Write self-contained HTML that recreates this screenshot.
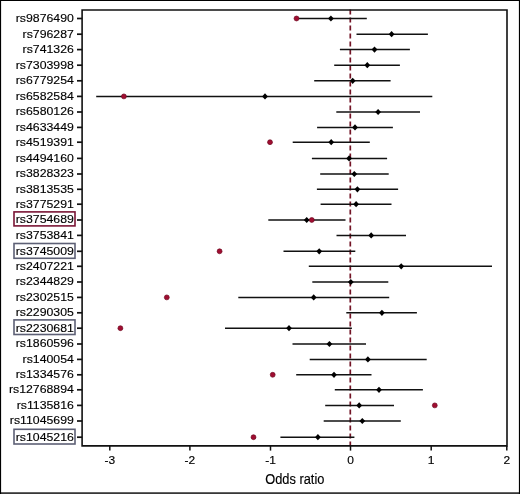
<!DOCTYPE html>
<html><head><meta charset="utf-8"><style>
html,body{margin:0;padding:0;background:#fff;}
svg{display:block;will-change:transform;}
text{font-family:"Liberation Sans",sans-serif;fill:#000;stroke:#000;stroke-width:0.15px;}
</style></head><body>
<svg width="520" height="494" viewBox="0 0 520 494">
<rect x="0" y="0" width="520" height="494" fill="#fff"/>
<path d="M0.55,0 V494 M0,0.55 H520 M519.45,0 V494 M0,493.2 H520" stroke="#000" stroke-width="1.1" fill="none"/>
<line x1="0" y1="492.7" x2="520" y2="492.7" stroke="#000" stroke-width="0.6"/>
<line x1="350.3" y1="9.5" x2="350.3" y2="446" stroke="#731426" stroke-width="1.7" stroke-dasharray="5 3"/>
<line x1="296.5" y1="18.5" x2="366.8" y2="18.5" stroke="#111" stroke-width="1.5"/>
<line x1="356.5" y1="34.2" x2="427.9" y2="34.2" stroke="#111" stroke-width="1.5"/>
<line x1="339.9" y1="49.6" x2="409.9" y2="49.6" stroke="#111" stroke-width="1.5"/>
<line x1="334.2" y1="65.2" x2="399.9" y2="65.2" stroke="#111" stroke-width="1.5"/>
<line x1="314.2" y1="80.8" x2="390.6" y2="80.8" stroke="#111" stroke-width="1.5"/>
<line x1="96.2" y1="96.4" x2="432.3" y2="96.4" stroke="#111" stroke-width="1.5"/>
<line x1="336.3" y1="112.0" x2="420.0" y2="112.0" stroke="#111" stroke-width="1.5"/>
<line x1="317.1" y1="127.4" x2="392.9" y2="127.4" stroke="#111" stroke-width="1.5"/>
<line x1="292.7" y1="142.2" x2="369.8" y2="142.2" stroke="#111" stroke-width="1.5"/>
<line x1="311.9" y1="158.4" x2="387.1" y2="158.4" stroke="#111" stroke-width="1.5"/>
<line x1="320.2" y1="174.0" x2="388.7" y2="174.0" stroke="#111" stroke-width="1.5"/>
<line x1="316.9" y1="189.3" x2="398.1" y2="189.3" stroke="#111" stroke-width="1.5"/>
<line x1="320.6" y1="204.2" x2="391.5" y2="204.2" stroke="#111" stroke-width="1.5"/>
<line x1="268.3" y1="220.0" x2="345.5" y2="220.0" stroke="#111" stroke-width="1.5"/>
<line x1="336.5" y1="235.4" x2="406.0" y2="235.4" stroke="#111" stroke-width="1.5"/>
<line x1="283.5" y1="251.3" x2="355.3" y2="251.3" stroke="#111" stroke-width="1.5"/>
<line x1="308.8" y1="266.3" x2="492.0" y2="266.3" stroke="#111" stroke-width="1.5"/>
<line x1="312.3" y1="282.0" x2="388.3" y2="282.0" stroke="#111" stroke-width="1.5"/>
<line x1="238.3" y1="297.4" x2="389.2" y2="297.4" stroke="#111" stroke-width="1.5"/>
<line x1="346.3" y1="312.8" x2="416.9" y2="312.8" stroke="#111" stroke-width="1.5"/>
<line x1="225.0" y1="328.2" x2="351.9" y2="328.2" stroke="#111" stroke-width="1.5"/>
<line x1="292.5" y1="344.0" x2="366.0" y2="344.0" stroke="#111" stroke-width="1.5"/>
<line x1="309.7" y1="359.4" x2="426.7" y2="359.4" stroke="#111" stroke-width="1.5"/>
<line x1="296.2" y1="374.8" x2="371.5" y2="374.8" stroke="#111" stroke-width="1.5"/>
<line x1="334.8" y1="389.8" x2="422.9" y2="389.8" stroke="#111" stroke-width="1.5"/>
<line x1="325.2" y1="405.4" x2="394.0" y2="405.4" stroke="#111" stroke-width="1.5"/>
<line x1="323.7" y1="421.0" x2="400.8" y2="421.0" stroke="#111" stroke-width="1.5"/>
<line x1="280.4" y1="437.2" x2="354.4" y2="437.2" stroke="#111" stroke-width="1.5"/>
<polygon points="328.0,18.5 330.9,15.4 333.79999999999995,18.5 330.9,21.6" fill="#000"/>
<polygon points="388.70000000000005,34.2 391.6,31.1 394.5,34.2 391.6,37.300000000000004" fill="#000"/>
<polygon points="371.6,49.6 374.5,46.5 377.4,49.6 374.5,52.7" fill="#000"/>
<polygon points="364.40000000000003,65.2 367.3,62.1 370.2,65.2 367.3,68.3" fill="#000"/>
<polygon points="349.8,80.8 352.7,77.7 355.59999999999997,80.8 352.7,83.89999999999999" fill="#000"/>
<polygon points="262.1,96.4 265.0,93.30000000000001 267.9,96.4 265.0,99.5" fill="#000"/>
<polygon points="375.20000000000005,112.0 378.1,108.9 381.0,112.0 378.1,115.1" fill="#000"/>
<polygon points="352.1,127.4 355.0,124.30000000000001 357.9,127.4 355.0,130.5" fill="#000"/>
<polygon points="328.3,142.2 331.2,139.1 334.09999999999997,142.2 331.2,145.29999999999998" fill="#000"/>
<polygon points="346.20000000000005,158.4 349.1,155.3 352.0,158.4 349.1,161.5" fill="#000"/>
<polygon points="351.40000000000003,174.0 354.3,170.9 357.2,174.0 354.3,177.1" fill="#000"/>
<polygon points="354.5,189.3 357.4,186.20000000000002 360.29999999999995,189.3 357.4,192.4" fill="#000"/>
<polygon points="353.20000000000005,204.2 356.1,201.1 359.0,204.2 356.1,207.29999999999998" fill="#000"/>
<polygon points="303.8,220.0 306.7,216.9 309.59999999999997,220.0 306.7,223.1" fill="#000"/>
<polygon points="368.3,235.4 371.2,232.3 374.09999999999997,235.4 371.2,238.5" fill="#000"/>
<polygon points="316.3,251.3 319.2,248.20000000000002 322.09999999999997,251.3 319.2,254.4" fill="#000"/>
<polygon points="398.3,266.3 401.2,263.2 404.09999999999997,266.3 401.2,269.40000000000003" fill="#000"/>
<polygon points="347.90000000000003,282.0 350.8,278.9 353.7,282.0 350.8,285.1" fill="#000"/>
<polygon points="310.8,297.4 313.7,294.29999999999995 316.59999999999997,297.4 313.7,300.5" fill="#000"/>
<polygon points="379.0,312.8 381.9,309.7 384.79999999999995,312.8 381.9,315.90000000000003" fill="#000"/>
<polygon points="286.1,328.2 289.0,325.09999999999997 291.9,328.2 289.0,331.3" fill="#000"/>
<polygon points="326.5,344.0 329.4,340.9 332.29999999999995,344.0 329.4,347.1" fill="#000"/>
<polygon points="365.0,359.4 367.9,356.29999999999995 370.79999999999995,359.4 367.9,362.5" fill="#000"/>
<polygon points="331.1,374.8 334.0,371.7 336.9,374.8 334.0,377.90000000000003" fill="#000"/>
<polygon points="376.1,389.8 379.0,386.7 381.9,389.8 379.0,392.90000000000003" fill="#000"/>
<polygon points="356.3,405.4 359.2,402.29999999999995 362.09999999999997,405.4 359.2,408.5" fill="#000"/>
<polygon points="359.40000000000003,421.0 362.3,417.9 365.2,421.0 362.3,424.1" fill="#000"/>
<polygon points="315.0,437.2 317.9,434.09999999999997 320.79999999999995,437.2 317.9,440.3" fill="#000"/>
<circle cx="296.5" cy="18.5" r="2.45" fill="#a00d31" stroke="#6e0820" stroke-width="0.7"/>
<circle cx="123.9" cy="96.4" r="2.45" fill="#a00d31" stroke="#6e0820" stroke-width="0.7"/>
<circle cx="270.0" cy="142.2" r="2.45" fill="#a00d31" stroke="#6e0820" stroke-width="0.7"/>
<circle cx="311.8" cy="220.0" r="2.45" fill="#a00d31" stroke="#6e0820" stroke-width="0.7"/>
<circle cx="219.6" cy="251.3" r="2.45" fill="#a00d31" stroke="#6e0820" stroke-width="0.7"/>
<circle cx="166.8" cy="297.4" r="2.45" fill="#a00d31" stroke="#6e0820" stroke-width="0.7"/>
<circle cx="120.4" cy="328.2" r="2.45" fill="#a00d31" stroke="#6e0820" stroke-width="0.7"/>
<circle cx="272.7" cy="374.8" r="2.45" fill="#a00d31" stroke="#6e0820" stroke-width="0.7"/>
<circle cx="434.8" cy="405.4" r="2.45" fill="#a00d31" stroke="#6e0820" stroke-width="0.7"/>
<circle cx="253.5" cy="437.2" r="2.45" fill="#a00d31" stroke="#6e0820" stroke-width="0.7"/>
<path d="M82.1,10.0 H507.0 V445.9 H82.1 Z" fill="none" stroke="#111" stroke-width="1.6"/>
<line x1="77" y1="18.5" x2="82.1" y2="18.5" stroke="#111" stroke-width="1.7"/>
<text x="0" y="0" font-size="12.3" text-anchor="end" transform="translate(73.8,21.80) scale(1,0.92)">rs9876490</text>
<line x1="77" y1="34.2" x2="82.1" y2="34.2" stroke="#111" stroke-width="1.7"/>
<text x="0" y="0" font-size="12.3" text-anchor="end" transform="translate(73.8,37.50) scale(1,0.92)">rs796287</text>
<line x1="77" y1="49.6" x2="82.1" y2="49.6" stroke="#111" stroke-width="1.7"/>
<text x="0" y="0" font-size="12.3" text-anchor="end" transform="translate(73.8,52.90) scale(1,0.92)">rs741326</text>
<line x1="77" y1="65.2" x2="82.1" y2="65.2" stroke="#111" stroke-width="1.7"/>
<text x="0" y="0" font-size="12.3" text-anchor="end" transform="translate(73.8,68.50) scale(1,0.92)">rs7303998</text>
<line x1="77" y1="80.8" x2="82.1" y2="80.8" stroke="#111" stroke-width="1.7"/>
<text x="0" y="0" font-size="12.3" text-anchor="end" transform="translate(73.8,84.10) scale(1,0.92)">rs6779254</text>
<line x1="77" y1="96.4" x2="82.1" y2="96.4" stroke="#111" stroke-width="1.7"/>
<text x="0" y="0" font-size="12.3" text-anchor="end" transform="translate(73.8,99.70) scale(1,0.92)">rs6582584</text>
<line x1="77" y1="112.0" x2="82.1" y2="112.0" stroke="#111" stroke-width="1.7"/>
<text x="0" y="0" font-size="12.3" text-anchor="end" transform="translate(73.8,115.30) scale(1,0.92)">rs6580126</text>
<line x1="77" y1="127.4" x2="82.1" y2="127.4" stroke="#111" stroke-width="1.7"/>
<text x="0" y="0" font-size="12.3" text-anchor="end" transform="translate(73.8,130.70) scale(1,0.92)">rs4633449</text>
<line x1="77" y1="142.2" x2="82.1" y2="142.2" stroke="#111" stroke-width="1.7"/>
<text x="0" y="0" font-size="12.3" text-anchor="end" transform="translate(73.8,145.50) scale(1,0.92)">rs4519391</text>
<line x1="77" y1="158.4" x2="82.1" y2="158.4" stroke="#111" stroke-width="1.7"/>
<text x="0" y="0" font-size="12.3" text-anchor="end" transform="translate(73.8,161.70) scale(1,0.92)">rs4494160</text>
<line x1="77" y1="174.0" x2="82.1" y2="174.0" stroke="#111" stroke-width="1.7"/>
<text x="0" y="0" font-size="12.3" text-anchor="end" transform="translate(73.8,177.30) scale(1,0.92)">rs3828323</text>
<line x1="77" y1="189.3" x2="82.1" y2="189.3" stroke="#111" stroke-width="1.7"/>
<text x="0" y="0" font-size="12.3" text-anchor="end" transform="translate(73.8,192.60) scale(1,0.92)">rs3813535</text>
<line x1="77" y1="204.2" x2="82.1" y2="204.2" stroke="#111" stroke-width="1.7"/>
<text x="0" y="0" font-size="12.3" text-anchor="end" transform="translate(73.8,207.50) scale(1,0.92)">rs3775291</text>
<line x1="77" y1="220.0" x2="82.1" y2="220.0" stroke="#111" stroke-width="1.7"/>
<text x="0" y="0" font-size="12.3" text-anchor="end" transform="translate(73.8,223.30) scale(1,0.92)">rs3754689</text>
<line x1="77" y1="235.4" x2="82.1" y2="235.4" stroke="#111" stroke-width="1.7"/>
<text x="0" y="0" font-size="12.3" text-anchor="end" transform="translate(73.8,238.70) scale(1,0.92)">rs3753841</text>
<line x1="77" y1="251.3" x2="82.1" y2="251.3" stroke="#111" stroke-width="1.7"/>
<text x="0" y="0" font-size="12.3" text-anchor="end" transform="translate(73.8,254.60) scale(1,0.92)">rs3745009</text>
<line x1="77" y1="266.3" x2="82.1" y2="266.3" stroke="#111" stroke-width="1.7"/>
<text x="0" y="0" font-size="12.3" text-anchor="end" transform="translate(73.8,269.60) scale(1,0.92)">rs2407221</text>
<line x1="77" y1="282.0" x2="82.1" y2="282.0" stroke="#111" stroke-width="1.7"/>
<text x="0" y="0" font-size="12.3" text-anchor="end" transform="translate(73.8,285.30) scale(1,0.92)">rs2344829</text>
<line x1="77" y1="297.4" x2="82.1" y2="297.4" stroke="#111" stroke-width="1.7"/>
<text x="0" y="0" font-size="12.3" text-anchor="end" transform="translate(73.8,300.70) scale(1,0.92)">rs2302515</text>
<line x1="77" y1="312.8" x2="82.1" y2="312.8" stroke="#111" stroke-width="1.7"/>
<text x="0" y="0" font-size="12.3" text-anchor="end" transform="translate(73.8,316.10) scale(1,0.92)">rs2290305</text>
<line x1="77" y1="328.2" x2="82.1" y2="328.2" stroke="#111" stroke-width="1.7"/>
<text x="0" y="0" font-size="12.3" text-anchor="end" transform="translate(73.8,331.50) scale(1,0.92)">rs2230681</text>
<line x1="77" y1="344.0" x2="82.1" y2="344.0" stroke="#111" stroke-width="1.7"/>
<text x="0" y="0" font-size="12.3" text-anchor="end" transform="translate(73.8,347.30) scale(1,0.92)">rs1860596</text>
<line x1="77" y1="359.4" x2="82.1" y2="359.4" stroke="#111" stroke-width="1.7"/>
<text x="0" y="0" font-size="12.3" text-anchor="end" transform="translate(73.8,362.70) scale(1,0.92)">rs140054</text>
<line x1="77" y1="374.8" x2="82.1" y2="374.8" stroke="#111" stroke-width="1.7"/>
<text x="0" y="0" font-size="12.3" text-anchor="end" transform="translate(73.8,378.10) scale(1,0.92)">rs1334576</text>
<line x1="77" y1="389.8" x2="82.1" y2="389.8" stroke="#111" stroke-width="1.7"/>
<text x="0" y="0" font-size="12.3" text-anchor="end" transform="translate(73.8,393.10) scale(1,0.92)">rs12768894</text>
<line x1="77" y1="405.4" x2="82.1" y2="405.4" stroke="#111" stroke-width="1.7"/>
<text x="0" y="0" font-size="12.3" text-anchor="end" transform="translate(73.8,408.70) scale(1,0.92)">rs1135816</text>
<line x1="77" y1="421.0" x2="82.1" y2="421.0" stroke="#111" stroke-width="1.7"/>
<text x="0" y="0" font-size="12.3" text-anchor="end" transform="translate(73.8,424.30) scale(1,0.92)">rs11045699</text>
<line x1="77" y1="437.2" x2="82.1" y2="437.2" stroke="#111" stroke-width="1.7"/>
<text x="0" y="0" font-size="12.3" text-anchor="end" transform="translate(73.8,440.50) scale(1,0.92)">rs1045216</text>
<rect x="14" y="211.9" width="61" height="14.0" fill="none" stroke="#7a1535" stroke-width="1.6"/>
<rect x="14" y="243.5" width="61" height="14.8" fill="none" stroke="#5d6075" stroke-width="1.6"/>
<rect x="14" y="319.9" width="61" height="14.6" fill="none" stroke="#5d6075" stroke-width="1.6"/>
<rect x="14" y="429.3" width="61" height="14.7" fill="none" stroke="#5d6075" stroke-width="1.6"/>
<line x1="109.8" y1="445.9" x2="109.8" y2="450.6" stroke="#111" stroke-width="1.5"/>
<text x="0" y="0" font-size="12" text-anchor="middle" transform="translate(109.8,464.4) scale(1,0.95)">-3</text>
<line x1="189.9" y1="445.9" x2="189.9" y2="450.6" stroke="#111" stroke-width="1.5"/>
<text x="0" y="0" font-size="12" text-anchor="middle" transform="translate(189.9,464.4) scale(1,0.95)">-2</text>
<line x1="270.5" y1="445.9" x2="270.5" y2="450.6" stroke="#111" stroke-width="1.5"/>
<text x="0" y="0" font-size="12" text-anchor="middle" transform="translate(270.5,464.4) scale(1,0.95)">-1</text>
<line x1="350.5" y1="445.9" x2="350.5" y2="450.6" stroke="#111" stroke-width="1.5"/>
<text x="0" y="0" font-size="12" text-anchor="middle" transform="translate(350.5,464.4) scale(1,0.95)">0</text>
<line x1="431.2" y1="445.9" x2="431.2" y2="450.6" stroke="#111" stroke-width="1.5"/>
<text x="0" y="0" font-size="12" text-anchor="middle" transform="translate(431.2,464.4) scale(1,0.95)">1</text>
<line x1="506.8" y1="445.9" x2="506.8" y2="450.6" stroke="#111" stroke-width="1.5"/>
<text x="0" y="0" font-size="12" text-anchor="middle" transform="translate(506.8,464.4) scale(1,0.95)">2</text>
<text x="0" y="0" font-size="14.5" transform="translate(265.2,483.5) scale(0.885,1)">Odds ratio</text>
</svg>
</body></html>
